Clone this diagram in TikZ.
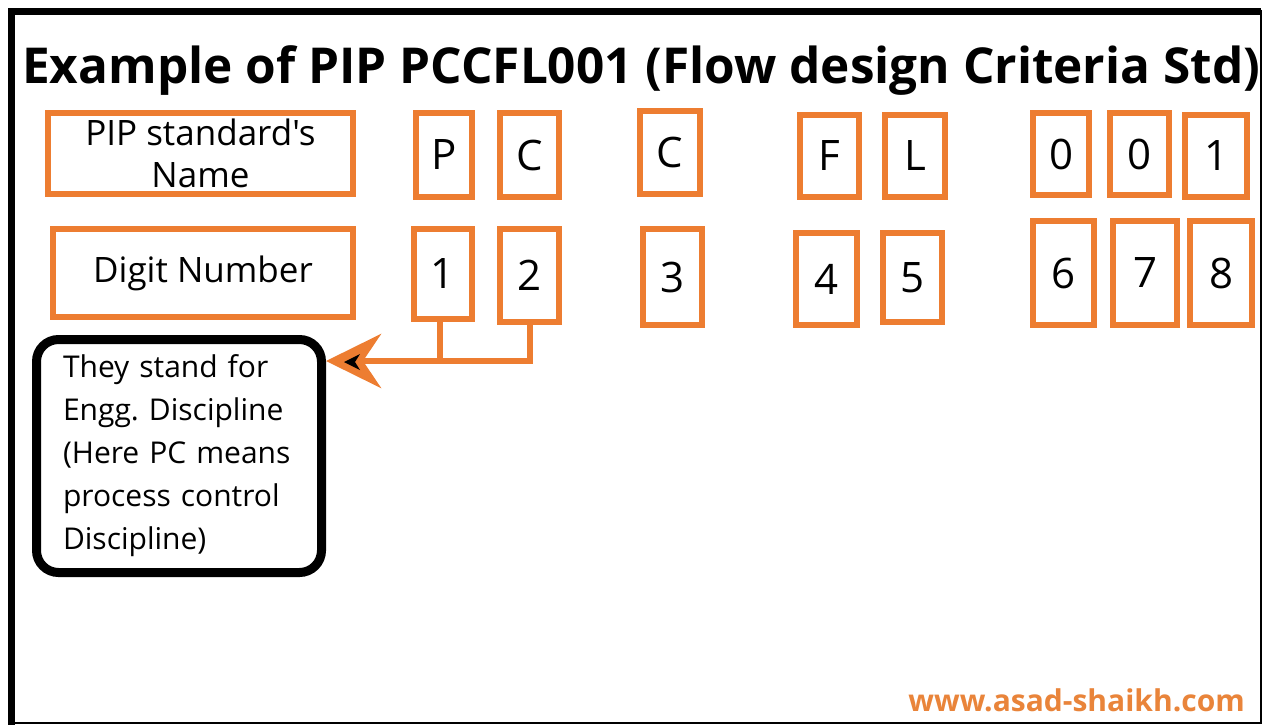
\documentclass[tikz,border=0pt]{standalone}
\usepackage{fontspec}
\setmainfont{Open Sans}[Ligatures=TeXOff]
\usetikzlibrary{arrows.meta}
\definecolor{org}{HTML}{ED7D31}
\definecolor{wm}{HTML}{E9843A}
\frenchspacing
\tikzset{
  obox/.style={draw=org, line width=6pt, inner sep=0pt, font=\fontsize{42}{44}\selectfont, text=black},
  lbox/.style={draw=org, line width=6pt, inner sep=0pt, align=center, font=\fontsize{35}{42}\selectfont},
  conn/.style={draw=org, line width=6pt},
  callout/.style={draw=black, line width=9pt, rounded corners=22pt, inner xsep=26.5pt, inner ysep=0pt,
     text width=232pt, align=left, font=\fontsize{30}{43}\selectfont}
}
\begin{document}
\begin{tikzpicture}[x=1pt,y=-1pt]
\useasboundingbox (0,0) rectangle (1266,725);
\fill[white] (0,0) rectangle (1266,725);
% frame
\draw[line width=7pt] (11.5,725) -- (11.5,11.5) -- (1261,11.5);
\draw[line width=2.5pt] (1261,10) -- (1261,723) -- (10,723);
% title
\node[anchor=base west, inner sep=0pt, font=\fontsize{49.5}{52}\selectfont\bfseries] (title) at (22,83)
  {Example of PIP PCCFL001 (Flow design Criteria Std)};
% row 1
\node[lbox, minimum width=305pt, minimum height=81pt] (name) at (200.5,153.5) {PIP standard's\\Name};
\node[obox, minimum width=56pt, minimum height=84pt] (p) at (444,155) {P};
\node[obox, minimum width=59pt, minimum height=84pt] (c1) at (529.5,155) {C};
\node[obox, minimum width=60pt, minimum height=83pt] (c2) at (670,152.5) {C};
\node[obox, minimum width=59pt, minimum height=82pt] (f) at (829.5,156) {F};
\node[obox, minimum width=60pt, minimum height=82pt] (l) at (915,156) {L};
\node[obox, minimum width=56pt, minimum height=82pt] (z1) at (1061,154) {0};
\node[obox, minimum width=59pt, minimum height=82pt] (z2) at (1139.5,154) {0};
\node[obox, minimum width=62pt, minimum height=82pt] (o1) at (1216,156) {1};
% row 2
\node[lbox, minimum width=300pt, minimum height=88pt] (digit) at (203,273) {Digit Number};
\node[obox, minimum width=58pt, minimum height=90pt] (d1) at (443,274) {1};
\node[obox, minimum width=59pt, minimum height=93pt] (d2) at (529.5,275.5) {2};
\node[obox, minimum width=59pt, minimum height=96pt] (d3) at (672.5,277) {3};
\node[obox, minimum width=61pt, minimum height=92pt] (d4) at (826.5,279) {4};
\node[obox, minimum width=59pt, minimum height=89pt] (d5) at (912.5,277.5) {5};
\node[obox, minimum width=61pt, minimum height=104pt] (d6) at (1063.5,273) {6};
\node[obox, minimum width=64pt, minimum height=104pt] (d7) at (1145,273) {7};
\node[obox, minimum width=62pt, minimum height=104pt] (d8) at (1221,273) {8};
% callout
\node[callout, minimum width=283pt, minimum height=233pt] (call) at (179,456)
  {They stand for\\Engg. Discipline\\(Here PC means\\process control\\Discipline)};
% connectors
\coordinate (j2) at (530,361);
\draw[conn] (d1.south -| 440,0) -- (440,361);
\draw[conn, -{Stealth[length=55pt, width=54pt, inset=18pt]}] (d2.south -| j2) -- (j2) -- (call.east |- j2);
\fill[black] (344,362) -- (360,354) -- (355,362) -- (360,370) -- cycle;
% watermark
\node[anchor=base east, inner sep=0pt, text=wm, font=\fontsize{30}{32}\selectfont\bfseries] (web) at (1245,711)
  {www.asad-shaikh.com};
\end{tikzpicture}
\end{document}
